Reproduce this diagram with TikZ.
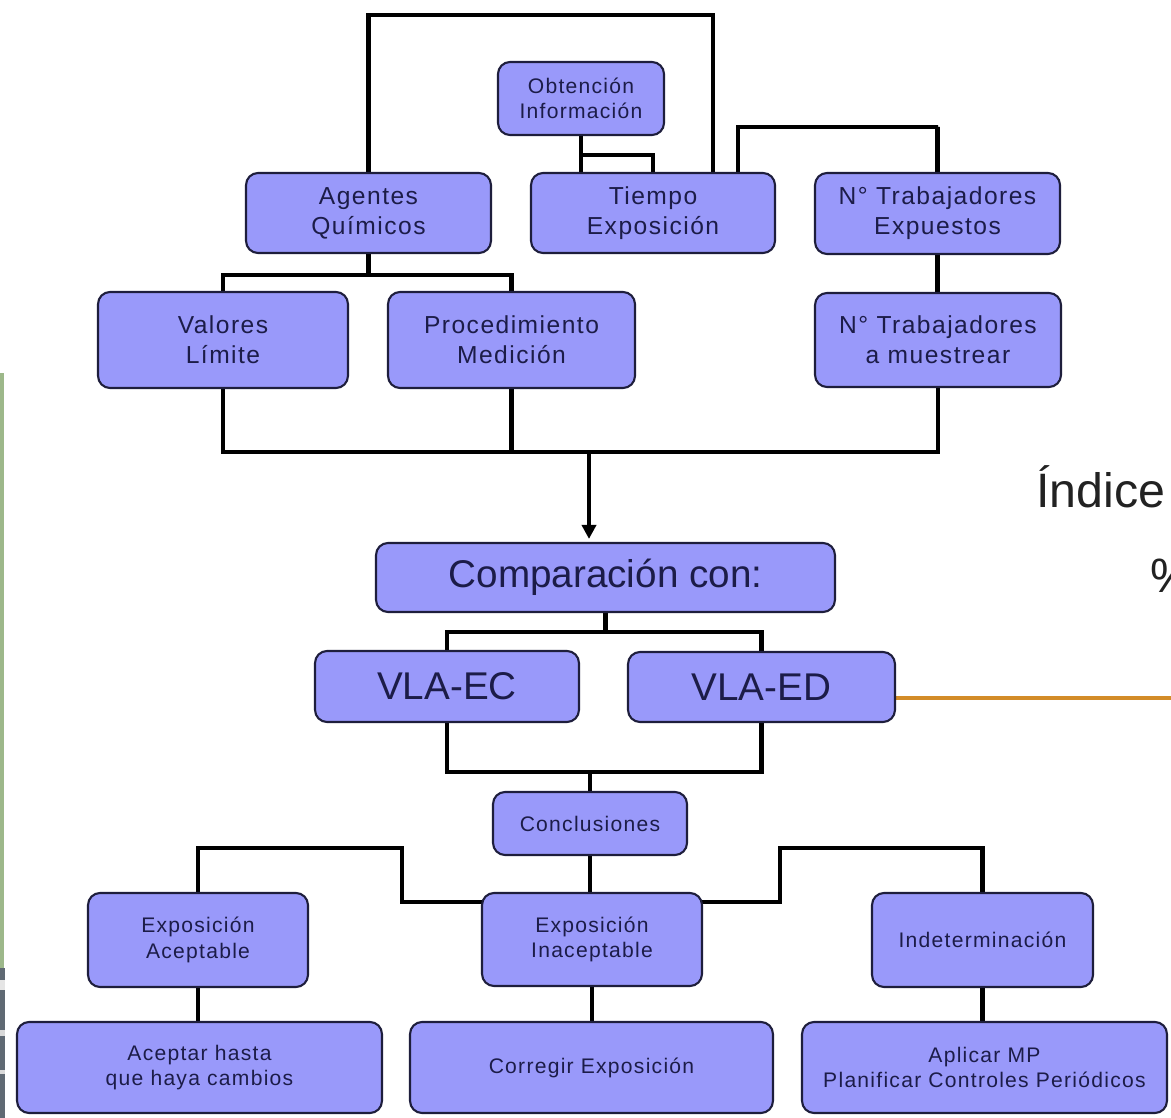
\documentclass[tikz,border=0pt]{standalone}
\usepackage{fontspec}
\setmainfont{Liberation Sans}
\newfontfamily\boxfont[LetterSpace=6]{Liberation Sans}
\usetikzlibrary{arrows.meta,calc,backgrounds}
\definecolor{boxfill}{RGB}{153,153,250}
\definecolor{boxline}{RGB}{30,30,60}
\definecolor{boxtext}{RGB}{28,28,72}
\definecolor{orangeline}{RGB}{211,140,40}
\definecolor{stripgreen}{RGB}{157,184,138}
\definecolor{stripgray}{RGB}{95,105,115}
\begin{document}
\begin{tikzpicture}[x=0.02cm,y=-0.02cm,
  box/.style={draw=boxline,fill=boxfill,rounded corners=0.24cm,line width=1.2pt,inner sep=0pt,align=center,text=boxtext},
  midbox/.style={box,font=\boxfont\fontsize{14}{17}\selectfont},
  smallbox/.style={box,font=\boxfont\fontsize{12}{14.5}\selectfont},
  bigbox/.style={box,font=\fontsize{22}{26}\selectfont},
  conn/.style={line width=2.3pt,black},
  arrowconn/.style={conn,-{Triangle[length=8pt,width=8pt]}},
  accent/.style={line width=1.8pt,orangeline},
  sidetext/.style={anchor=base west,inner sep=0pt,text={rgb,255:red,34;green,34;blue,34},font=\fontsize{27.5}{32}\selectfont}]
\useasboundingbox (0,0) rectangle (1171,1118);

% nodes
\node[smallbox,minimum width=3.32cm,minimum height=1.46cm] (obt) at (581,98.5) {Obtención\\Información};
\node[midbox,minimum width=4.88cm,minimum height=1.60cm] (tiempo) at (653,213) {Tiempo\\Exposición};
\node[midbox,minimum width=4.90cm,minimum height=1.60cm] (agentes) at (368.5,213) {Agentes\\Químicos};
\node[midbox,minimum width=4.90cm,minimum height=1.62cm] (expuestos) at (937.5,213.5) {N° Trabajadores\\Expuestos};
\node[midbox,minimum width=4.92cm,minimum height=1.88cm] (muestrear) at (938,340) {N° Trabajadores\\a muestrear};
\node[midbox,minimum width=5.00cm,minimum height=1.92cm] (valores) at (223,340) {Valores\\Límite};
\node[midbox,minimum width=4.94cm,minimum height=1.92cm] (proced) at (511.5,340) {Procedimiento\\Medición};
\node[bigbox,minimum width=9.18cm,minimum height=1.38cm] (comp) at (605.5,577.5) {Comparación con:};
\node[bigbox,minimum width=5.28cm,minimum height=1.42cm] (vlaec) at (447,686.5) {VLA-EC};
\node[bigbox,minimum width=5.34cm,minimum height=1.40cm] (vlaed) at (761.5,687) {VLA-ED};
\node[smallbox,minimum width=3.88cm,minimum height=1.26cm] (concl) at (590,823.5) {Conclusiones};
\node[smallbox,minimum width=4.40cm,minimum height=1.86cm] (inacept) at (592,939.5) {Exposición\\Inaceptable};
\node[smallbox,minimum width=4.40cm,minimum height=1.88cm] (acept) at (198,940) {Exposición\\Aceptable};
\node[smallbox,minimum width=4.42cm,minimum height=1.88cm] (indet) at (982.5,940) {Indeterminación};
\node[smallbox,minimum width=7.30cm,minimum height=1.82cm] (aceptar) at (199.5,1067.5) {Aceptar hasta\\que haya cambios};
\node[smallbox,minimum width=7.26cm,minimum height=1.82cm] (corregir) at (591.5,1067.5) {Corregir Exposición};
\node[smallbox,minimum width=7.30cm,minimum height=1.82cm] (aplicar) at (984.5,1067.5) {Aplicar MP\\Planificar Controles Periódicos};

\node[sidetext] (indice) at (1036,508) {Índice};
\node[sidetext] (pct) at (1150,593) {\%};

\coordinate (busA) at (589,452);
\coordinate (orangeEnd) at (1175,698);

\begin{scope}[on background layer]
  \fill[white] (0,0) rectangle (1171,1118);
  \fill[stripgreen] (0,373) rectangle (4,968);
  \fill[stripgray] (0,968) rectangle (5,1118);
  \fill[white!80!gray] (0,980) rectangle (5,990);
  \fill[white!70!gray] (0,1030) rectangle (5,1036);
  \fill[white!70!gray] (0,1070) rectangle (5,1074);
  % top section
  \draw[conn] (agentes.north) |- (713,15) -- ($(tiempo.north)+(60,0)$);
  \draw[conn] (obt.south) -- (obt.south |- tiempo.north);
  \draw[conn] (obt.south |- 0,155) -| (tiempo.north);
  \draw[conn] ($(tiempo.north)+(85,0)$) |- (938,127) -| (expuestos.north);
  \draw[conn] (expuestos.south) -- (expuestos.south |- muestrear.north);
  \draw[conn] (agentes.south) -- (agentes.south |- 0,275);
  \draw[conn] (valores.north) |- (368,275) -| (proced.north);
  \draw[conn] (valores.south) |- (muestrear.south |- 0,452) -- (muestrear.south);
  \draw[conn] (proced.south) -- (proced.south |- 0,452);
  % middle section
  \draw[arrowconn] (busA) -- ($(busA |- comp.north)+(0,-3)$);
  \draw[conn] (comp.south) -- (comp.south |- 0,632);
  \draw[conn] (vlaec.north) |- (605,632) -| (vlaed.north);
  \draw[conn] (vlaec.south) |- (605,772) -| (vlaed.south);
  \draw[conn] (concl.north |- 0,772) -- (concl.north);
  \draw[accent] (vlaed.east |- 0,698) -- (orangeEnd);
  % bottom section
  \draw[conn] (concl.south) -- (concl.south |- inacept.north);
  \draw[conn] (acept.north) |- (402,848) |- (inacept.center |- 0,902);
  \draw[conn] (inacept.center |- 0,902) -| (780,848) -| (indet.north);
  \draw[conn] (acept.south) -- (acept.south |- aceptar.north);
  \draw[conn] (inacept.south) -- (inacept.south |- corregir.north);
  \draw[conn] (indet.south) -- (indet.south |- aplicar.north);
\end{scope}
\end{tikzpicture}
\end{document}
